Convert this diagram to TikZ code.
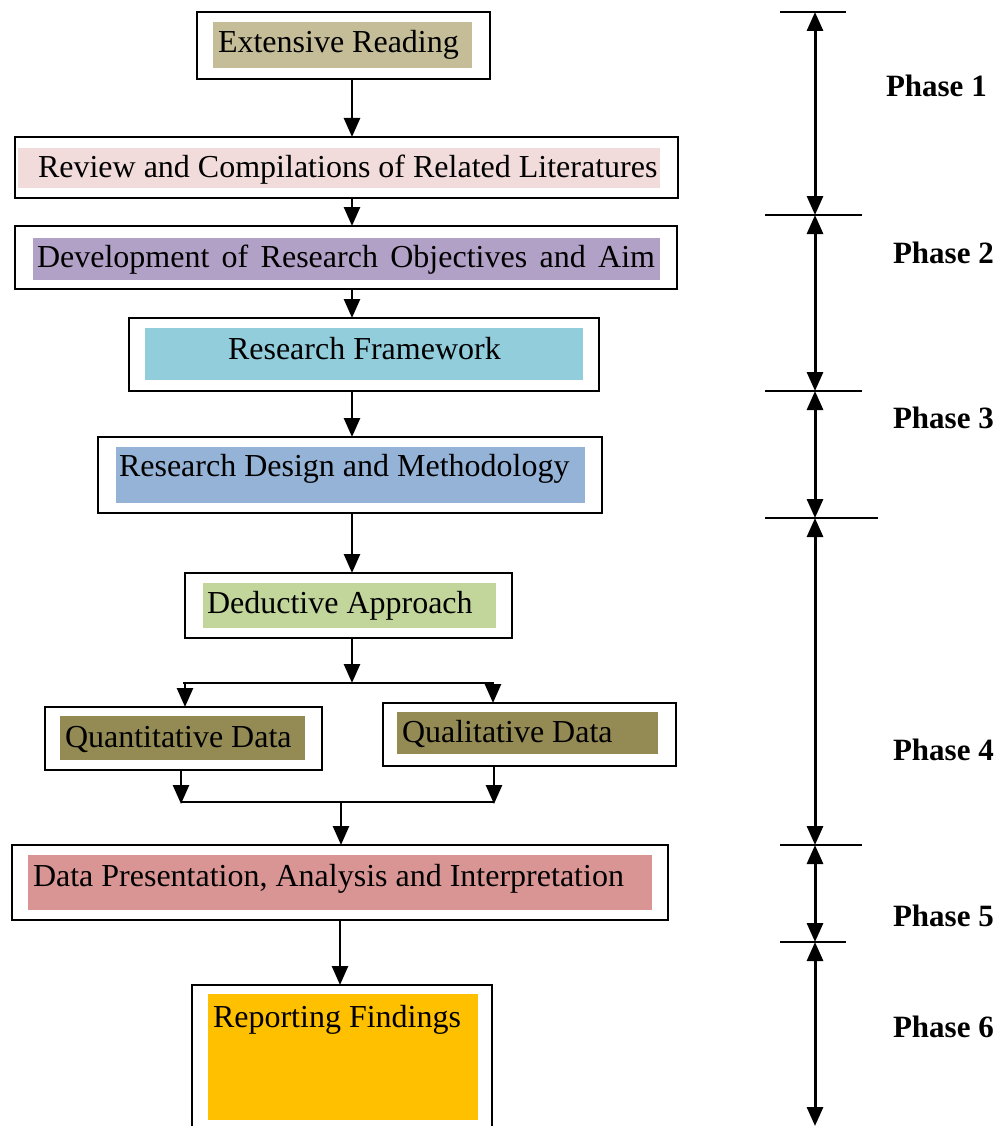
\documentclass[tikz,border=0pt]{standalone}
\usepackage{fontspec}
\setmainfont{Liberation Serif}
\usepackage{tikz}
\usetikzlibrary{arrows.meta,positioning}
\definecolor{readtan}{HTML}{C4BD97}
\definecolor{reviewpink}{HTML}{F2DCDB}
\definecolor{aimlilac}{HTML}{B2A1C7}
\definecolor{frameaqua}{HTML}{92CDDC}
\definecolor{designblue}{HTML}{95B3D7}
\definecolor{deductgreen}{HTML}{C2D69B}
\definecolor{dataolive}{HTML}{948A54}
\definecolor{presentrose}{HTML}{D99594}
\definecolor{reportgold}{HTML}{FFC000}
\tikzstyle{every node}=[inner sep=0pt, outer sep=0pt, font=\fontsize{32}{38}\selectfont]

\begin{document}
\begin{tikzpicture}[
    x=1pt, y=-1pt,
    stage/.style={
        draw=black,
        line width=2pt},
    caption/.style={
        anchor=base west},
    phase/.style={
        anchor=base west,
        font=\fontsize{31}{37}\selectfont\bfseries},
    flow/.style={
        line width=2.6pt,
        -{Triangle[length=19pt,width=16pt]}},
    rail/.style={line width=2.4pt},
    span/.style={
        line width=3pt,
        {Triangle[length=19pt,width=16pt]}-{Triangle[length=19pt,width=16pt]}},
    tick/.style={line width=1.8pt},
  ]
  \useasboundingbox (0,0) rectangle (1008,1126);
  % Stages
  \node[stage, minimum width=293pt, minimum height=67pt] (read) at (343.5,45.5) {};
  \fill[readtan] (213,22) rectangle (472,68);
  \node[caption] (readtxt) at (218,53) {Extensive Reading};

  \node[stage, minimum width=663pt, minimum height=61pt] (review) at (346.5,167.5) {};
  \fill[reviewpink] (18,148) rectangle (660,188);
  \node[caption] (reviewtxt) at (38,178) {Review and Compilations of Related Literatures};

  \node[stage, minimum width=662pt, minimum height=63pt] (aim) at (346,257.5) {};
  \fill[aimlilac] (33,238) rectangle (660,280);
  \node[caption] (aimtxt) at (37,267) {\makebox[618pt][s]{Development of Research Objectives and Aim}};

  \node[stage, minimum width=470pt, minimum height=73pt] (frame) at (364,354.5) {};
  \fill[frameaqua] (145,328) rectangle (583,380);
  \node[caption] (frametxt) at (228,359) {Research Framework};

  \node[stage, minimum width=504pt, minimum height=76pt] (design) at (350,475) {};
  \fill[designblue] (116,447) rectangle (585,503);
  \node[caption] (designtxt) at (119,476) {Research Design and Methodology};

  \node[stage, minimum width=327pt, minimum height=65pt] (deduct) at (348.5,605.5) {};
  \fill[deductgreen] (203,583) rectangle (496,628);
  \node[caption] (deducttxt) at (207,613) {Deductive Approach};

  \node[stage, minimum width=277pt, minimum height=63pt] (quant) at (183.5,738.5) {};
  \fill[dataolive] (60,716) rectangle (305,760);
  \node[caption] (quanttxt) at (65,747) {Quantitative Data};

  \node[stage, minimum width=293pt, minimum height=63pt] (qual) at (529.5,734.5) {};
  \fill[dataolive] (397,712) rectangle (658,754);
  \node[caption] (qualtxt) at (402,742) {Qualitative Data};

  \node[stage, minimum width=656pt, minimum height=75pt] (present) at (340,882.5) {};
  \fill[presentrose] (28,855) rectangle (652,910);
  \node[caption] (presenttxt) at (33,886) {Data Presentation, Analysis and Interpretation};

  \node[stage, minimum width=300pt, minimum height=160pt] (report) at (342,1065) {};
  \fill[reportgold] (208,994) rectangle (478,1120);
  \node[caption] (reporttxt) at (213,1027) {Reporting Findings};

  % Flow
  \coordinate (spine) at (352,0);
  \coordinate (lowspine) at (340,0);
  \draw[flow] (read.south -| spine) -- (review.north -| spine);
  \draw[flow] (review.south -| spine) -- (aim.north -| spine);
  \draw[flow] (aim.south -| spine) -- (frame.north -| spine);
  \draw[flow] (frame.south -| spine) -- (design.north -| spine);
  \draw[flow] (design.south -| spine) -- (deduct.north -| spine);
  % Split and join
  \coordinate (split) at (352,683);
  \coordinate (splitleft) at (183,683);
  \coordinate (splitright) at (494,683);
  \coordinate (join) at (341,802);
  \coordinate (joinleft) at (181,802);
  \coordinate (joinright) at (494,802);
  \draw[flow] (deduct.south -| split) -- (split);
  \draw[rail] (splitleft) -- (splitright);
  \draw[flow] ([xshift=2pt]splitleft) -- ([xshift=2pt]splitleft |- quant.north);
  \draw[flow] ([xshift=-1pt]splitright) -- ([xshift=-1pt]splitright |- qual.north);
  \draw[flow] (quant.south -| joinleft) -- ([yshift=-2pt]joinleft);
  \draw[flow] (qual.south -| joinright) -- ([yshift=-2pt]joinright);
  \draw[rail] (joinleft) -- (joinright);
  \draw[flow] (join) -- (present.north -| join);
  \draw[flow] (present.south -| lowspine) -- (report.north -| lowspine);

  % Phase scale
  \coordinate (t0) at (815,12);
  \coordinate (t1) at (815,215);
  \coordinate (t2) at (815,391);
  \coordinate (t3) at (815,518);
  \coordinate (t4) at (815,845);
  \coordinate (t5) at (815,942);
  \coordinate (t6) at (815,1126);
  \draw[tick] ([xshift=-35pt]t0) -- ([xshift=31pt]t0);
  \draw[tick] ([xshift=-50pt]t1) -- ([xshift=47pt]t1);
  \draw[tick] ([xshift=-50pt]t2) -- ([xshift=47pt]t2);
  \draw[tick] ([xshift=-50pt]t3) -- ([xshift=63pt]t3);
  \draw[tick] ([xshift=-35pt]t4) -- ([xshift=47pt]t4);
  \draw[tick] ([xshift=-35pt]t5) -- ([xshift=31pt]t5);
  \draw[span] (t0) -- (t1);
  \draw[span] (t1) -- (t2);
  \draw[span] (t2) -- (t3);
  \draw[span] (t3) -- (t4);
  \draw[span] (t4) -- (t5);
  \draw[span] (t5) -- (t6);
  \node[phase] (p1) at (886,97) {Phase 1};
  \node[phase] (p2) at (893,263) {Phase 2};
  \node[phase] (p3) at (893,428) {Phase 3};
  \node[phase] (p4) at (893,760) {Phase 4};
  \node[phase] (p5) at (893,926) {Phase 5};
  \node[phase] (p6) at (893,1037) {Phase 6};
\end{tikzpicture}
\end{document}
